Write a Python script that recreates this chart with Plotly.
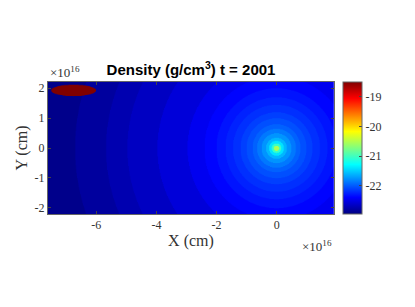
import numpy as np
import plotly.graph_objects as go

# ---- data (lengths in units of 1e16 cm, density as log10 g/cm^3) ----
ring_outer_radius = [0.09, 0.16, 0.25, 0.35, 0.5, 0.65, 0.8, 1.0, 1.2, 1.45, 1.7,
                     2.0, 2.4, 2.96, 3.96, 4.96, 5.67, 6.7, 20.0]
ring_log_density = [-20.55, -21.05, -21.4, -21.6, -21.75, -21.87, -21.97, -22.05, -22.12,
                    -22.19, -22.25, -22.31, -22.38, -22.46, -22.56, -22.66, -22.74,
                    -22.82, -22.9]
clump_center = [-6.75, 1.93]
clump_semi_axes = [0.75, 0.19]
clump_log_density = -18.5
x_range = [-7.6, 1.9]
y_range = [-2.21, 2.21]
x_ticks = [-6, -4, -2, 0]
x_tick_labels = ["-6", "-4", "-2", "0"]
y_ticks = [-2, -1, 0, 1, 2]
y_tick_labels = ["-2", "-1", "0", "1", "2"]
cbar_ticks = [-22, -21, -20, -19]
cbar_tick_labels = ["-22", "-21", "-20", "-19"]
c_min, c_max = -22.95, -18.5

# ---- build the field from the tables ----
step = 0.0125
xs = np.arange(x_range[0], x_range[1] + step, step)
ys = np.arange(y_range[0], y_range[1] + step, step)
X, Y = np.meshgrid(xs, ys)
R = np.hypot(X, Y)
idx = np.clip(np.searchsorted(ring_outer_radius, R), 0, len(ring_log_density) - 1)
Z = np.array(ring_log_density)[idx]
inside = ((X - clump_center[0]) / clump_semi_axes[0]) ** 2 + \
         ((Y - clump_center[1]) / clump_semi_axes[1]) ** 2 <= 1
Z[inside] = clump_log_density

jet = [[0.0, "rgb(0,0,128)"], [0.125, "rgb(0,0,255)"], [0.375, "rgb(0,255,255)"],
       [0.625, "rgb(255,255,0)"], [0.875, "rgb(255,0,0)"], [1.0, "rgb(128,0,0)"]]

serif = "Liberation Serif"
fig = go.Figure(go.Heatmap(
    x=xs, y=ys, z=Z, colorscale=jet, zmin=c_min, zmax=c_max, zsmooth="fast",
    colorbar=dict(
        x=1.0315, xanchor="left", xpad=0, ypad=0, y=0.5, yanchor="middle", len=1,
        lenmode="fraction", thickness=19, outlinewidth=1, outlinecolor="#666",
        tickvals=cbar_ticks, ticktext=cbar_tick_labels, ticks="inside", ticklen=3,
        tickcolor="#444", tickfont=dict(family=serif, size=12, color="#333"),
    ),
    hoverinfo="skip",
))

axis_common = dict(showline=True, linecolor="#666", linewidth=1, mirror="ticks",
                   ticks="inside", ticklen=3, tickcolor="#444", showgrid=False, zeroline=False,
                   automargin=False, tickfont=dict(family=serif, size=12, color="#333"))

fig.update_layout(
    width=415, height=307,
    margin=dict(l=48, r=81, t=82, b=93),
    paper_bgcolor="white", plot_bgcolor="white",
    title=dict(text="Density (g/cm<sup>3</sup>) t = 2001", x=(48 + 286 / 2) / 415, xanchor="center",
               y=1 - 70 / 307, yanchor="middle", yref="container",
               font=dict(family="Liberation Sans", size=15, color="black", weight="bold")),
    xaxis=dict(range=x_range, tickvals=x_ticks, ticktext=x_tick_labels, **axis_common,
               title=dict(text="X (cm)", standoff=3, font=dict(family=serif, size=16, color="#333"))),
    yaxis=dict(range=y_range, tickvals=y_ticks, ticktext=y_tick_labels, **axis_common,
               title=dict(text="Y (cm)", standoff=2, font=dict(family=serif, size=16, color="#333"))),
    annotations=[
        dict(text="×10<sup>16</sup>", xref="paper", yref="paper", x=0, y=1, xanchor="left",
             yanchor="bottom", yshift=0, showarrow=False,
             font=dict(family=serif, size=13, color="#333")),
        dict(text="×10<sup>16</sup>", xref="paper", yref="paper", x=1, y=0, xanchor="right",
             yanchor="top", yshift=-22, showarrow=False,
             font=dict(family=serif, size=13, color="#333")),
    ],
)

fig.write_html("out.html", config={"displayModeBar": False},
               post_script="document.body.style.margin='0';")
